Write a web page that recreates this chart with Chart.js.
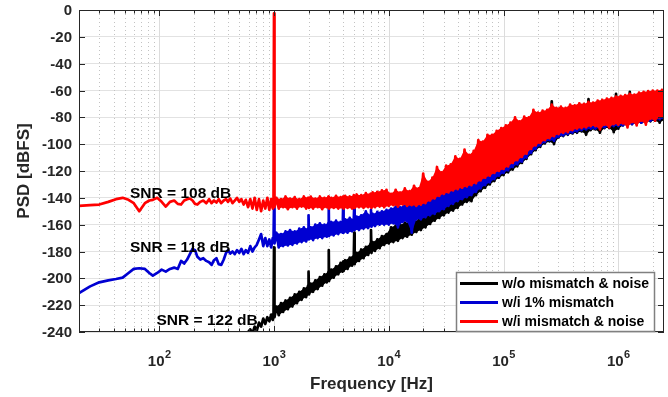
<!DOCTYPE html>
<html>
<head>
<meta charset="utf-8">
<title>PSD</title>
<script src="https://cdn.jsdelivr.net/npm/chart.js@4.4.1/dist/chart.umd.min.js"></script>
<style>
  html, body { margin: 0; padding: 0; background: #fff; }
  #wrap { position: relative; width: 668px; height: 397px; }
</style>
</head>
<body>
<div id="wrap"><canvas id="chart"></canvas></div>
<script>
// 周波数 [Hz]
const freqHz = [
  // 20 Hz - 1 kHz
  20, 25, 30, 36, 42, 48, 54, 60, 67, 75,
  82, 88, 96, 105, 114, 124, 135, 145, 155, 165,
  175, 185, 195, 205, 215, 228, 242, 257, 272, 286,
  300, 315, 330, 347, 365, 382, 398, 416, 435, 455,
  476, 498, 520, 544, 568, 594, 621, 649, 678, 708,
  740, 772, 806, 840, 875, 910, 945, 975, 990, 1000,
  1010,
  // 1 kHz - 10 kHz
  1050, 1100, 1150, 1200, 1260, 1320, 1380, 1445, 1515, 1585,
  1660, 1740, 1820, 1905, 1980, 2000, 2020, 2090, 2190, 2290,
  2400, 2510, 2630, 2750, 2880, 2980, 3000, 3020, 3160, 3310,
  3470, 3630, 3800, 3960, 4000, 4040, 4170, 4370, 4570, 4790,
  4960, 5000, 5040, 5250, 5500, 5750, 6030, 6310, 6610, 6930,
  7000, 7070, 7240, 7590, 7940, 8320, 8710, 9120, 9550,
  // 10 kHz - 100 kHz
  10000, 10470, 10960, 11480, 12020, 12590, 13180, 13800, 14450, 15140,
  15850, 16600, 17380, 18200, 19050, 19950, 20890, 21880, 22910, 23990,
  25120, 26300, 27540, 28840, 30200, 31620, 33110, 34670, 36310, 38020,
  39810, 41690, 43650, 45710, 47860, 50120, 52480, 54950, 57540, 60260,
  63100, 66070, 69180, 72440, 75860, 79430, 83180, 87100, 91200, 95500,
  // 100 kHz - 1 MHz
  100000, 104700, 109600, 114800, 120200, 125900, 131800, 138000, 144500, 151400,
  158500, 166000, 173800, 182000, 190500, 199500, 208900, 218800, 229100, 239900,
  251200, 263000, 275400, 288400, 302000, 316200, 331100, 346700, 363100, 380200,
  398100, 416900, 436500, 457100, 478600, 501200, 524800, 549500, 575400, 602600,
  631000, 660700, 691800, 724400, 758600, 794300, 831800, 871000, 912000, 955000,
  // 1 MHz - 2.5 MHz
  1000000, 1047000, 1096000, 1148000, 1202000, 1259000, 1318000, 1380000, 1445000, 1514000,
  1585000, 1660000, 1738000, 1820000, 1905000, 1995000, 2089000, 2188000, 2291000, 2399000,
  2500000,
];

// 黒: w/o mismatch & noise [dBFS]
const psdIdeal = [
  null, null, null, null, null, null, null, null, null, null,
  null, null, null, null, null, null, null, null, null, null,
  null, null, null, null, null, null, null, null, null, null,
  null, null, null, null, null, null, null, null, null, null,
  null, null, null, null, -244, -240, -238, -241, -236, -239,
  -233, -236, -230, -234, -229, -232, -227, -231, -228, -177,
  -229,
  -221, -227.5, -218.5, -225, -216.5, -223, -214.5, -221, -212, -218.5,
  -210, -216, -207.5, -214, -205.5, -195, -212, -204, -210, -201.5,
  -208, -199, -205.5, -197, -203, -195, -179, -202, -193.5, -199.5,
  -191, -197, -188.5, -195, -187.5, -194.5, -186.5, -193, -184.5, -190.5,
  -182.5, -166, -189.5, -181, -187, -178.5, -185, -176.5, -182.5, -174,
  -164, -181, -173, -179.5, -171, -177.5, -168.5, -175, -167,
  -174, -162, -173, -160.5, -172, -160, -170, -158.5, -169, -158,
  -167.5, -157, -165.5, -156.5, -164, -155, -162, -152, -159.5, -150,
  -157, -147.5, -155, -144.5, -153, -142.5, -151, -140.5, -149.5, -138.5,
  -147.5, -137, -145, -135.5, -143, -134, -142.5, -131.5, -138, -129,
  -135, -126.5, -132.5, -124.5, -130, -122, -127.5, -120, -125, -117.5,
  -123, -110, -121, -108, -119, -106, -116.5, -103.5, -114, -101,
  -111, -98, -107.5, -95, -104.5, -92.5, -102, -90.5, -99.5, -89,
  -98, -68, -100, -86, -95, -85, -94, -84, -93, -83,
  -92, -82, -91.5, -81, -90.5, -80, -93, -66.5, -89.5, -79,
  -89, -78.5, -91.5, -78, -88, -77.5, -88, -77, -91, -62.5,
  -88.5, -76, -86, -75.5, -85.5, -61, -85, -75, -84.5, -74.5,
  -84, -74, -83.5, -73.5, -83, -73, -82.5, -72.5, -84, -72,
  -82,
];

// 青: w/i 1% mismatch [dBFS]
const psdMismatch = [
  -211, -206, -203, -201.5, -200.5, -199.5, -196, -193, -192.5, -193,
  -196, -198, -196, -193.5, -195, -193, -192, -193, -187, -189,
  -186, -182, -178, -179, -184, -186, -185, -187, -188, -190,
  -186.5, -185, -189.5, -190, -186, -181, -179, -181.5, -180, -182,
  -179, -181, -178, -182, -179, -181, -176, -180, -177, -175,
  -171, -167, -176, -170, -176, -171, -177, -170, -173, -145,
  -174,
  -166, -177, -167, -176, -165, -175.5, -164, -175, -165, -174,
  -163, -173, -162, -172.5, -163, -153, -171, -162, -171.5, -160,
  -170, -159, -170, -160, -169, -158.5, -147, -168.5, -158, -168,
  -157, -167, -158, -166, -147, -166, -156, -166, -155, -165,
  -155.5, -145, -164, -154, -164, -153, -163, -150, -162.5, -153,
  -149, -161.5, -152, -161, -150.5, -160, -150, -160, -149,
  -160, -148, -159, -146.5, -162, -147, -158, -145, -157.5, -146,
  -166, -144, -156, -144.5, -156, -143, -154.5, -136, -153, -134.5,
  -152, -132.5, -150, -131, -148.5, -130, -146, -128.5, -144.5, -127.5,
  -142.5, -126, -141, -125, -139.5, -124.5, -138, -123, -135.5, -121,
  -133, -119, -130.5, -117.5, -128.5, -115.5, -126, -114, -123.5, -112.5,
  -121.5, -108, -119.5, -106, -117, -104, -115, -101.5, -113, -99,
  -110, -96, -106.5, -93, -103.5, -90.5, -101, -88.5, -98.5, -87,
  -97, -85.5, -97.5, -84, -94.5, -83, -93.5, -82, -92.5, -81,
  -91.5, -80, -90.5, -79, -89.5, -78.5, -89, -78, -88.5, -77.5,
  -88.5, -77, -88, -76.5, -87.5, -76, -87, -75.5, -86.5, -75,
  -86.5, -74.5, -86, -74, -85.5, -73.5, -85, -73, -84.5, -72.5,
  -84, -72, -83.5, -71.5, -82.5, -71, -82, -70.5, -81.5, -70,
  -81,
];

// 赤: w/i mismatch & noise [dBFS]
const psdNoise = [
  -146, -145.5, -145, -143, -141, -140, -141.5, -144, -150, -144,
  -142, -141.5, -140, -143, -146.5, -143, -142, -144.5, -145, -142,
  -141, -140.5, -142, -144.5, -145, -143, -142, -144, -141, -144,
  -142, -143.5, -141, -144, -142, -141, -143, -140.5, -144, -142,
  -140, -143, -141, -145, -141.5, -147, -141, -148, -140, -149,
  -141, -150, -142, -148, -140, -149, -141, -148, -144, -2.5,
  -147,
  -140, -148, -141, -147, -139, -148.5, -140.5, -147, -139.5, -148,
  -141, -146.5, -139, -148, -140, -143, -147.5, -139, -148, -140.5,
  -147, -139, -148.5, -140, -147, -139, -143, -148, -140, -147.5,
  -138.5, -148, -139.5, -147, -139, -148, -138.5, -147.5, -139, -148,
  -138, -142, -147.5, -137.5, -147, -138, -147.5, -136.5, -147, -137,
  -141, -147.5, -136, -147, -135.5, -146.5, -134.5, -147, -134,
  -146, -137, -145.5, -134, -146.5, -136, -145, -133, -146, -135,
  -145.5, -131, -146, -133, -145, -122, -144, -128, -142, -125,
  -140.5, -117, -138.5, -121, -137, -116, -136, -115, -134.5, -109,
  -133.5, -111, -132.5, -104, -131.5, -108, -130.5, -105, -129, -97,
  -127, -98, -125, -93, -123.5, -93, -121.5, -90, -120, -88,
  -118.5, -86, -116.5, -84, -114, -80, -112, -83, -109.5, -79.5,
  -107, -80, -103.5, -74.5, -101, -76.5, -99, -75, -97, -74.5,
  -95.5, -70.5, -94, -73, -92.5, -72, -91.5, -73, -91, -70.5,
  -89.5, -71, -88.5, -69.5, -88, -70, -87.5, -68.5, -86.5, -69,
  -86.5, -67.5, -89, -67, -85.5, -66, -87.5, -65.5, -85, -64.5,
  -85.5, -64, -84.5, -63.5, -87.5, -62.5, -83.5, -63, -86, -61.5,
  -82.5, -61, -85.5, -60.5, -81, -60, -82.5, -60, -80, -59.5,
  -80,
];

const seriesNames = ["w/o mismatch & noise", "w/i 1% mismatch", "w/i mismatch & noise"];
const seriesColors = ["#000000", "#0000d2", "#ff0000"];
const snrLabels = ["SNR = 108 dB", "SNR = 118 dB", "SNR = 122 dB"];
const yTicks = [0, -20, -40, -60, -80, -100, -120, -140, -160, -180, -200, -220, -240];
const xMajor = [1e2, 1e3, 1e4, 1e5, 1e6];
const xExponents = ["2", "3", "4", "5", "6"];
// 高調波スパイクの周波数 (帯の塗りから外す)
const spikeHz = [1000, 2000, 3000, 4000, 5000, 7000];
const bandStartHz = 1050;

const FONT = "'Liberation Sans', Arial, sans-serif";
const INK = "#262626";

// 補助目盛 (2..9 x 10^n)
const xMinor = [];
for (let e = 1; e <= 6; e++) {
  for (let m = 2; m <= 9; m++) {
    const v = m * Math.pow(10, e);
    if (v > 20 && v < 2.5e6) xMinor.push(v);
  }
}

function toPoints(values) {
  return freqHz.map((f, i) => ({ x: f, y: values[i] }));
}

// 雑音帯の上端(極大)・下端(極小)の点を拾う
function envelope(values, pickMax) {
  const pts = [];
  freqHz.forEach((f, i) => {
    if (f >= bandStartHz && !spikeHz.includes(f) && values[i] !== null) {
      pts.push({ x: f, y: values[i] });
    }
  });
  return pts.filter((p, i) => {
    if (i === 0 || i === pts.length - 1) return true;
    const a = pts[i - 1].y;
    const b = pts[i + 1].y;
    return pickMax ? p.y >= a && p.y >= b : p.y <= a && p.y <= b;
  });
}

function text(ctx, str, x, y, size, align, baseline) {
  ctx.font = `bold ${size}px ${FONT}`;
  ctx.textAlign = align;
  ctx.textBaseline = baseline;
  ctx.fillText(str, x, y);
}

// グリッド、枠、目盛、ラベル、凡例を描く
const frame = {
  id: "frame",
  beforeDatasetsDraw(chart) {
    const { ctx, chartArea: a, scales } = chart;
    const x = scales.x;
    ctx.save();
    ctx.lineWidth = 1;
    ctx.strokeStyle = "#dcdcdc";
    ctx.beginPath();
    for (const v of xMajor) {
      const px = Math.round(x.getPixelForValue(v)) + 0.5;
      ctx.moveTo(px, a.top);
      ctx.lineTo(px, a.bottom);
    }
    ctx.stroke();
    ctx.strokeStyle = "#c2c2c2";
    ctx.setLineDash([1, 3]);
    ctx.beginPath();
    for (const v of xMinor) {
      const px = Math.round(x.getPixelForValue(v)) + 0.5;
      ctx.moveTo(px, a.top);
      ctx.lineTo(px, a.bottom);
    }
    ctx.stroke();
    ctx.restore();
  },
  afterDraw(chart) {
    const { ctx, chartArea: a, scales } = chart;
    const x = scales.x;
    const y = scales.y;
    ctx.save();

    // 枠
    ctx.strokeStyle = INK;
    ctx.lineWidth = 1;
    ctx.strokeRect(a.left + 0.5, a.top + 0.5, a.right - a.left - 1, a.bottom - a.top - 1);

    // 内向きの目盛
    ctx.beginPath();
    for (const v of xMajor.concat(xMinor)) {
      const px = Math.round(x.getPixelForValue(v)) + 0.5;
      const len = xMajor.includes(v) ? 6 : 3.5;
      ctx.moveTo(px, a.bottom);
      ctx.lineTo(px, a.bottom - len);
      ctx.moveTo(px, a.top);
      ctx.lineTo(px, a.top + len);
    }
    for (const v of yTicks) {
      const py = Math.round(y.getPixelForValue(v)) + 0.5;
      ctx.moveTo(a.left, py);
      ctx.lineTo(a.left + 6, py);
      ctx.moveTo(a.right, py);
      ctx.lineTo(a.right - 6, py);
    }
    ctx.stroke();

    // 目盛ラベル
    ctx.fillStyle = INK;
    for (const v of yTicks) {
      text(ctx, String(v), a.left - 7, y.getPixelForValue(v) + 1, 15, "right", "middle");
    }
    xMajor.forEach((v, i) => {
      ctx.font = `bold 15px ${FONT}`;
      const wBase = ctx.measureText("10").width;
      ctx.font = `bold 11px ${FONT}`;
      const wExp = ctx.measureText(xExponents[i]).width;
      const left = x.getPixelForValue(v) - (wBase + wExp) / 2;
      text(ctx, "10", left, 366, 15, "left", "alphabetic");
      text(ctx, xExponents[i], left + wBase + 0.5, 358, 11, "left", "alphabetic");
    });

    // 軸タイトル
    text(ctx, "Frequency [Hz]", (a.left + a.right) / 2, 389, 17, "center", "alphabetic");
    ctx.save();
    ctx.translate(28.5, (a.top + a.bottom) / 2);
    ctx.rotate(-Math.PI / 2);
    text(ctx, "PSD [dBFS]", 0, 0, 17, "center", "alphabetic");
    ctx.restore();

    // SNR
    ctx.fillStyle = "#000000";
    text(ctx, snrLabels[0], 130, 198, 15.5, "left", "alphabetic");
    text(ctx, snrLabels[1], 130, 251.5, 15.5, "left", "alphabetic");
    text(ctx, snrLabels[2], 156.5, 325, 15.5, "left", "alphabetic");

    // 凡例
    const lx = 456, ly = 272, lw = 199, lh = 60;
    ctx.fillStyle = "#ffffff";
    ctx.fillRect(lx, ly, lw, lh);
    ctx.strokeStyle = "#808080";
    ctx.lineWidth = 1.5;
    ctx.strokeRect(lx + 0.5, ly + 0.5, lw - 1, lh - 1);
    const rows = [283.5, 302.5, 321.5];
    seriesNames.forEach((name, i) => {
      ctx.strokeStyle = seriesColors[i];
      ctx.lineWidth = 3;
      ctx.beginPath();
      ctx.moveTo(460, rows[i]);
      ctx.lineTo(498, rows[i]);
      ctx.stroke();
      ctx.fillStyle = "#000000";
      text(ctx, name, 502, rows[i] + 0.5, 14, "left", "middle");
    });
    ctx.restore();
  },
};

const lineStyle = {
  pointRadius: 0,
  borderWidth: 2.7,
  borderJoinStyle: "round",
  tension: 0,
  spanGaps: false,
  fill: false,
};
const edgeStyle = {
  pointRadius: 0,
  borderWidth: 0,
  borderColor: "rgba(0,0,0,0)",
  tension: 0,
};

// 0-2: 線, 3-5: 帯の上端 (下端まで塗る), 6-8: 帯の下端
const series = [psdNoise, psdMismatch, psdIdeal];
const colors = [seriesColors[2], seriesColors[1], seriesColors[0]];
const datasets = [];
series.forEach((values, i) => {
  datasets.push({ data: toPoints(values), borderColor: colors[i], order: i * 2, ...lineStyle });
});
series.forEach((values, i) => {
  datasets.push({
    data: envelope(values, true),
    backgroundColor: colors[i],
    fill: 6 + i,
    order: i * 2 + 1,
    ...edgeStyle,
  });
});
series.forEach((values, i) => {
  datasets.push({ data: envelope(values, false), fill: false, order: 6 + i, ...edgeStyle });
});

new Chart(document.getElementById("chart"), {
  type: "line",
  data: { datasets },
  options: {
    responsive: true,
    maintainAspectRatio: false,
    animation: false,
    events: [],
    layout: { padding: { left: 79, top: 10, right: 4, bottom: 57 } },
    plugins: { legend: { display: false }, tooltip: { enabled: false } },
    scales: {
      x: {
        type: "logarithmic",
        min: 20,
        max: 2.5e6,
        ticks: { display: false },
        grid: { display: false },
        border: { display: false },
      },
      y: {
        type: "linear",
        min: -240,
        max: 0,
        ticks: { display: false, stepSize: 20 },
        grid: { color: "#e2e2e2", lineWidth: 1, drawTicks: false },
        border: { display: false },
      },
    },
  },
  plugins: [frame],
});
</script>
</body>
</html>
